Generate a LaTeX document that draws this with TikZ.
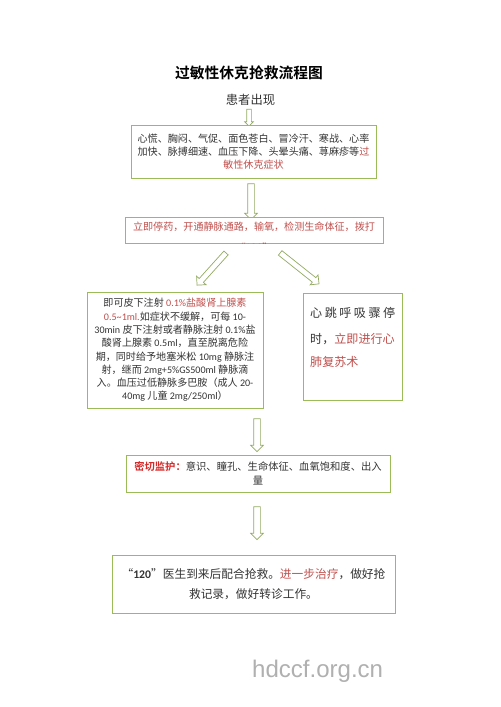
\documentclass[tikz,border=0pt]{standalone}
\usepackage{fontspec}
\setmainfont{Noto Sans CJK SC}[BoldFont={Noto Sans CJK SC Bold}]
\newfontfamily\lat{Carlito}
\newfontfamily\webfont{Liberation Sans}
\usetikzlibrary{shapes.arrows}

\begin{document}
\begin{tikzpicture}[
    x={(0.03cm,0cm)}, y={(0cm,-0.03cm)},
    every node/.style={text=textgray, inner sep=0pt},
    flowbox/.style={draw=boxgreen, line width=0.8pt, fill=white, align=center},
    bodytext/.style={font=\fontsize{8.6}{11.35}\selectfont},
    blockarrow/.style={single arrow, draw=arrowgreen, line width=0.6pt, fill=white,
      inner xsep=0pt, inner ysep=0.09cm, single arrow head extend=0.09cm},
  ]
    \definecolor{boxgreen}{HTML}{9BBB59}
    \definecolor{arrowgreen}{HTML}{93AA62}
    \definecolor{alertred}{HTML}{C0504D}
    \definecolor{alarmred}{HTML}{D42A2A}
    \definecolor{textgray}{HTML}{333333}
    \definecolor{markgray}{HTML}{B0B0B0}

    \fill[white] (0,0) rectangle (500,707);
    \useasboundingbox (0,0) rectangle (500,707);

    % -------- title and onset --------
    \node[font=\bfseries\fontsize{12.6}{14}\selectfont, text=black] (title) at (249,73) {过敏性休克抢救流程图};
    \node[font=\fontsize{10.5}{12}\selectfont] (onset) at (250.5,100) {患者出现};
    \node[blockarrow, minimum height=0.51cm, inner ysep=0.06cm, single arrow head extend=0.06cm, rotate=-90] (arrowA) at (249,116.5) {};

    % -------- symptoms --------
    \node[flowbox, bodytext, minimum width=7.35cm, minimum height=1.59cm] (symptoms) at (253.5,151.5)
      {心慌、胸闷、气促、面色苍白、冒冷汗、寒战、心率\\
       加快、脉搏细速、血压下降、头晕头痛、荨麻疹等\textcolor{alertred}{过}\\
       \textcolor{alertred}{敏性休克症状}};
    \node[blockarrow, minimum height=1.08cm, rotate=-90] (arrowB) at (251,200) {};

    % -------- first measures (second line cut by the box) --------
    \node[flowbox, minimum width=7.74cm, minimum height=0.78cm] (measures) at (254,230) {};
    \begin{scope}
      \clip (125,217) rectangle (383,243.5);
      \node[bodytext, text=alertred] (measuresA) at (254,227) {立即停药，开通静脉通路，输氧，检测生命体征，拨打};
      \node[bodytext, text=alertred] (measuresB) at (254,247) {“120”};
    \end{scope}
    \node[blockarrow, minimum height=1.3cm, inner ysep=0.075cm, single arrow head extend=0.105cm, rotate=-132] (arrowL) at (212.5,268) {};
    \node[blockarrow, minimum height=1.49cm, inner ysep=0.075cm, single arrow head extend=0.105cm, rotate=-38.5] (arrowR) at (298.5,267.5) {};

    % -------- drugs (left) --------
    \node[flowbox, bodytext, minimum width=5.28cm, minimum height=3.48cm] (drugs) at (175,350)
      {即可皮下注射 \textcolor{alertred}{{\lat 0.1\%}盐酸肾上腺素}\\
       \textcolor{alertred}{\lat 0.5\string~1ml.}如症状不缓解，可每 {\lat 10-}\\
       {\lat 30min} 皮下注射或者静脉注射 {\lat 0.1\%}盐\\
       酸肾上腺素 {\lat 0.5ml}，直至脱离危险\\
       期，同时给予地塞米松 {\lat 10mg} 静脉注\\
       射，继而 {\lat 2mg+5\%GS500ml} 静脉滴\\
       入。血压过低静脉多巴胺（成人 {\lat 20-}\\
       {\lat 40mg} 儿童 {\lat 2mg/250ml}）};

    % -------- resuscitation (right) --------
    \node[flowbox, minimum width=2.97cm, minimum height=3.21cm] (cpr) at (352.5,346.5) {};
    \begin{scope}[every node/.style={text=textgray, inner sep=0pt, anchor=west, font=\fontsize{10.3}{12}\selectfont}]
      \node (cprA) at (310,313) {\hbox to 2.55cm{心\hfill 跳\hfill 呼\hfill 吸\hfill 骤\hfill 停}};
      \node (cprB) at (310,339) {时，\textcolor{alertred}{立即进行心}};
      \node (cprC) at (310,362) {\textcolor{alertred}{肺复苏术}};
    \end{scope}

    % -------- monitoring --------
    \node[blockarrow, minimum height=0.99cm, rotate=-90] (arrowC) at (257,433.5) {};
    \node[flowbox, font=\fontsize{8.8}{11.9}\selectfont, minimum width=7.92cm, minimum height=1.11cm] (monitor) at (258,473.5)
      {\textcolor{alarmred}{\bfseries 密切监护：}意识、瞳孔、生命体征、血氧饱和度、出入\\量};

    % -------- hand-over --------
    \node[blockarrow, minimum height=0.99cm, rotate=-90] (arrowD) at (257,521.5) {};
    \node[flowbox, font=\fontsize{10}{17}\selectfont, minimum width=8.49cm, minimum height=1.74cm] (handover) at (253.5,584)
      {“{\lat\bfseries 120}”医生到来后配合抢救。\textcolor{alertred}{进一步治疗}，做好抢\\
       救记录，做好转诊工作。};

    % -------- watermark --------
    \node[font=\webfont\fontsize{20.5}{22}\selectfont, text=markgray, anchor=base west] (site) at (252,677) {hdccf.org.cn};
  \end{tikzpicture}
\end{document}
